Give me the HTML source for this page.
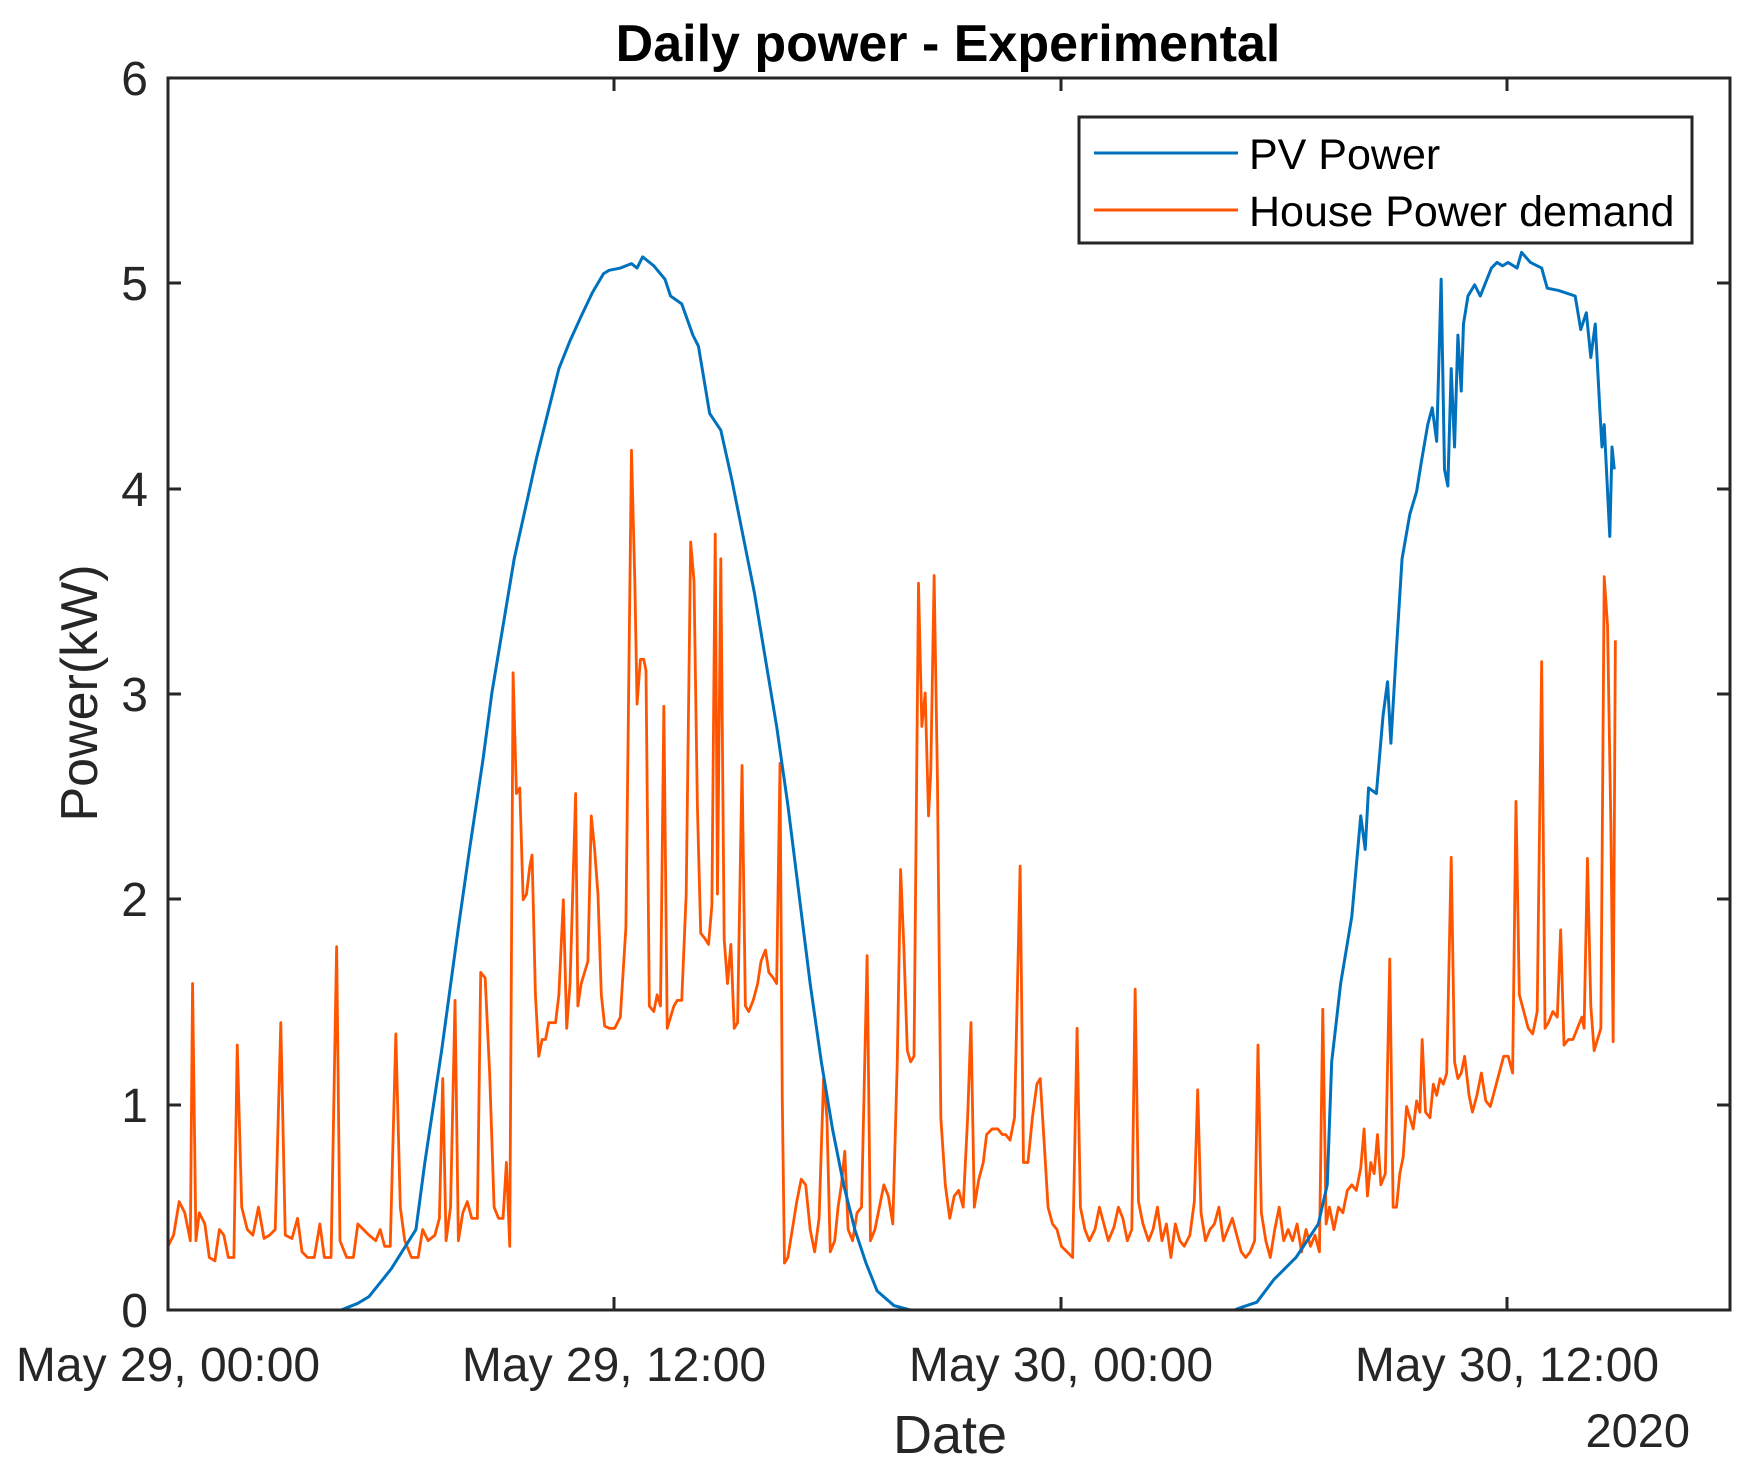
<!DOCTYPE html>
<html><head><meta charset="utf-8"><style>html,body{margin:0;padding:0;background:#fff}svg{display:block}text{font-family:"Liberation Sans",Arial,sans-serif;fill:#262626}</style></head>
<body>
<svg width="1752" height="1468" viewBox="0 0 1752 1468" xmlns="http://www.w3.org/2000/svg">
<rect width="1752" height="1468" fill="#fff"/>
<g transform="matrix(1.1168,0,0,1.118,0.48,-0.26)" fill="none" stroke-linejoin="round">
<polyline vector-effect="non-scaling-stroke" stroke="#FF5500" stroke-width="2.8" points="150,1115 155,1105 160,1075 165,1085 170,1110 172,880 175,1110 178,1085 183,1095 187,1125 192,1128 196,1100 200,1105 204,1125 209,1125 212,935 216,1080 221,1100 226,1105 231,1080 236,1108 241,1105 246,1100 251,915 255,1105 261,1108 266,1090 270,1120 275,1125 281,1125 286,1095 290,1125 296,1125 301,847 304,1110 310,1125 316,1125 320,1095 325,1100 330,1105 336,1110 340,1100 344,1115 349,1115 354,925 358,1080 362,1110 368,1125 374,1125 378,1100 383,1110 389,1105 393,1090 396,965 399,1110 403,1080 407,895 410,1110 414,1085 418,1075 422,1090 427,1090 430,870 434,875 438,960 442,1080 446,1090 450,1090 453,1040 456,1115 459,602 462,710 465,705 468,805 471,800 474,775 476,765 479,890 482,945 485,930 488,930 491,915 494,915 497,915 500,890 504,805 507,920 510,880 515,710 517,900 520,880 523,870 526,860 529,730 532,760 535,800 538,890 541,918 545,920 550,920 555,910 560,830 565,403 568,520 570,630 573,590 576,590 578,600 581,900 585,905 588,890 591,900 594,632 597,920 600,910 603,900 606,895 610,895 614,800 618,485 621,520 624,720 627,835 631,840 634,845 637,810 640,478 642,800 645,500 648,840 651,880 654,845 657,920 660,915 664,685 667,900 670,905 674,895 678,880 681,860 685,850 688,870 692,875 695,880 698,683 700,980 702,1130 705,1125 709,1100 713,1075 717,1055 721,1060 725,1100 729,1120 733,1090 737,965 740,1000 743,1120 747,1110 750,1080 753,1060 756,1030 759,1100 763,1110 767,1085 771,1080 776,855 779,1110 783,1100 787,1080 791,1060 795,1070 799,1095 803,950 806,778 809,850 812,940 815,950 818,945 822,522 825,650 828,620 831,730 833,690 836,515 839,700 842,1000 846,1060 850,1090 854,1070 858,1065 862,1080 866,1000 869,915 872,1080 876,1055 880,1040 883,1015 888,1010 893,1010 897,1015 900,1015 904,1020 908,1000 913,775 916,1040 920,1040 924,1000 928,970 931,965 935,1030 938,1080 942,1095 946,1100 950,1115 955,1120 960,1125 964,920 967,1080 971,1100 975,1110 980,1100 984,1080 988,1095 992,1110 997,1098 1001,1080 1005,1090 1009,1110 1013,1100 1016,885 1019,1075 1023,1095 1028,1110 1032,1100 1036,1080 1040,1110 1044,1095 1048,1125 1052,1095 1056,1110 1060,1115 1065,1105 1069,1075 1072,975 1075,1085 1079,1110 1083,1100 1087,1095 1091,1080 1095,1110 1099,1100 1103,1090 1107,1105 1111,1120 1115,1125 1119,1120 1123,1110 1126,935 1129,1085 1133,1110 1137,1125 1141,1100 1145,1080 1149,1110 1153,1100 1157,1110 1161,1095 1165,1120 1169,1100 1173,1115 1177,1105 1181,1120 1184,903 1187,1095 1190,1080 1194,1100 1198,1080 1202,1085 1206,1065 1210,1060 1214,1065 1218,1045 1221,1010 1224,1070 1227,1040 1230,1050 1233,1015 1236,1060 1240,1050 1244,858 1247,1080 1250,1080 1253,1050 1256,1035 1259,990 1262,1000 1265,1010 1268,985 1271,995 1273,930 1276,995 1280,1000 1283,970 1286,980 1289,965 1292,970 1295,960 1299,767 1302,950 1305,965 1308,960 1311,945 1315,980 1318,995 1322,980 1326,960 1330,985 1334,990 1338,975 1342,960 1346,945 1350,945 1354,960 1357,717 1360,890 1364,905 1368,920 1372,925 1376,905 1380,592 1383,920 1386,915 1390,905 1394,910 1397,832 1400,935 1404,930 1408,930 1412,920 1416,910 1418,920 1421,768 1424,900 1427,940 1430,930 1433,920 1436,516 1439,560 1442,740 1444,932 1446,573"/>
<polyline vector-effect="non-scaling-stroke" stroke="#0072BD" stroke-width="3" points="150,1172 305,1172 310,1170 320,1166 330,1160 350,1135 372,1100 380,1040 395,940 410,830 420,760 432,680 440,620 450,560 460,500 470,455 480,410 490,370 500,330 510,305 520,283 530,262 540,245 545,242 555,240 565,236 570,240 575,230 585,238 595,250 600,265 610,272 620,300 625,310 630,340 635,370 645,385 655,430 665,480 675,530 685,590 695,650 705,720 715,800 725,880 735,950 745,1010 755,1060 765,1100 775,1130 785,1155 800,1168 815,1172 1105,1172 1110,1170 1125,1165 1140,1145 1160,1125 1180,1095 1188,1060 1192,950 1200,880 1210,820 1218,730 1222,760 1225,705 1232,710 1238,640 1242,610 1245,665 1250,580 1255,500 1262,460 1268,440 1272,415 1278,380 1282,365 1286,395 1290,250 1293,420 1296,435 1299,330 1302,400 1305,300 1308,350 1310,290 1314,265 1320,255 1325,265 1335,240 1340,235 1345,238 1350,235 1358,240 1362,226 1370,235 1380,240 1385,258 1395,260 1410,265 1415,295 1420,280 1424,320 1428,290 1432,365 1434,400 1436,380 1438,420 1441,480 1443,400 1445,420"/>
</g>
<g stroke="#262626" stroke-width="3" fill="none">
<rect x="168" y="78" width="1562" height="1232"/>
<path d="M168,1105H181M168,899H181M168,694H181M168,489H181M168,283H181M1730,1105H1717M1730,899H1717M1730,694H1717M1730,489H1717M1730,283H1717M614,1310V1297M1061,1310V1297M1507,1310V1297M614,78V91M1061,78V91M1507,78V91"/>
</g>
<g font-size="48" text-anchor="end">
<text x="148" y="1327">0</text><text x="148" y="1122">1</text><text x="148" y="916">2</text><text x="148" y="711">3</text><text x="148" y="506">4</text><text x="148" y="300">5</text><text x="148" y="95">6</text>
</g>
<g font-size="48" text-anchor="middle">
<text x="168" y="1381">May 29, 00:00</text><text x="614" y="1381">May 29, 12:00</text><text x="1061" y="1381">May 30, 00:00</text><text x="1507" y="1381">May 30, 12:00</text>
<text x="950" y="1453" font-size="54">Date</text>
<text transform="translate(97,693) rotate(-90)" font-size="52">Power(kW)</text>
<text x="948" y="61" font-size="52" font-weight="bold" style="fill:#000">Daily power - Experimental</text>
</g>
<text x="1690" y="1447" font-size="47" text-anchor="end">2020</text>
<rect x="1079" y="117" width="613" height="126" fill="#fff" stroke="#262626" stroke-width="3"/>
<line x1="1094" y1="153" x2="1238" y2="153" stroke="#0072BD" stroke-width="3"/>
<line x1="1094" y1="210" x2="1238" y2="210" stroke="#FF5500" stroke-width="3"/>
<g font-size="43"><text x="1249" y="169" style="fill:#000">PV Power</text><text x="1249" y="226" style="fill:#000">House Power demand</text></g>
</svg>
</body></html>
